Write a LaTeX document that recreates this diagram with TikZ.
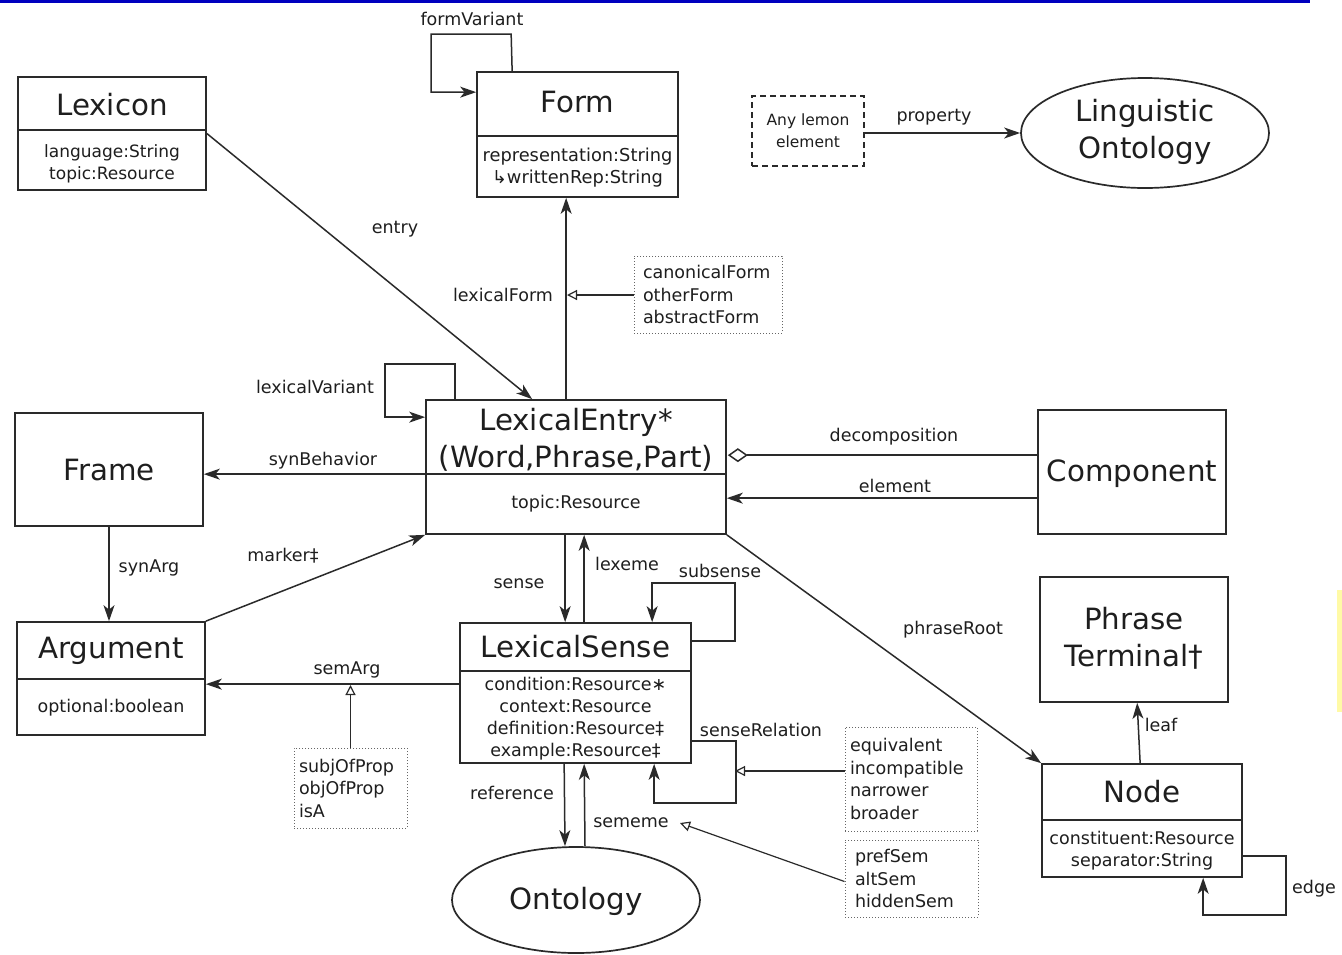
\documentclass[tikz,border=0pt]{standalone}
\usepackage{fontspec}
\setmainfont{DejaVu Sans}
\usetikzlibrary{arrows.meta,shapes.geometric,calc}
\definecolor{ln}{HTML}{2A2A2A}
\definecolor{tx}{HTML}{1E1E1E}
\begin{document}
\begin{tikzpicture}[x=1pt,y=-1pt,
 cls/.style={draw=ln, line width=1.7pt, inner sep=0pt},
 ttl/.style={font=\fontsize{29.3}{37}\selectfont, inner sep=0pt, align=center, text=tx},
 attr/.style={font=\fontsize{17.5}{22}\selectfont, inner sep=0pt, align=center, text=tx},
 lbl/.style={font=\fontsize{17.5}{21}\selectfont, inner sep=0pt, text=tx},
 div/.style={draw=ln, line width=1.7pt},
 conn/.style={draw=ln, line width=1.5pt, -{Stealth[length=16pt,width=11pt,inset=4.5pt]}},
 plain/.style={draw=ln, line width=1.5pt},
 note/.style={draw=black!60, dotted, line width=1pt, inner ysep=0pt, align=left,
   font=\fontsize{17.5}{22.5}\selectfont, text=tx},
 gen/.style={draw=ln, line width=1.2pt, -{Triangle[open,length=10pt,width=10pt]}},
]
\useasboundingbox (0,0) rectangle (1342,954);
\fill[white] (0,0) rectangle (1342,954);
\fill[blue!75!black] (0,0) rectangle (1310,2.5);
\fill[yellow!35] (1337,590) rectangle (1342,712);

% ---------- classes ----------
\node[cls, minimum width=188pt, minimum height=113pt] (lexicon) at (112,133.5) {};
\draw[div] ($(lexicon.north west)+(0,54)$) -- ($(lexicon.north east)+(0,54)$);
\node[ttl] (lexiconT) at (112,105) {Lexicon};
\node[attr, font=\fontsize{17}{22}\selectfont] (lexiconA) at (112,164) {language:String\\topic:Resource};

\node[cls, minimum width=201pt, minimum height=125pt] (form) at (577.5,134.5) {};
\draw[div] ($(form.north west)+(0,65)$) -- ($(form.north east)+(0,65)$);
\node[ttl] (formT) at (577.5,102) {Form};
\node[attr, font=\fontsize{17.8}{22}\selectfont] (formA) at (577.5,168) {representation:String\\↳writtenRep:String};

\node[cls, minimum width=300pt, minimum height=134pt] (le) at (576,467) {};
\draw[div] ($(le.north west)+(0,75)$) -- ($(le.north east)+(0,75)$);
\node[ttl] (leT) at (576,440) {LexicalEntry*\\(Word,Phrase,Part)};
\node[attr] (leA) at (576,504) {topic:Resource};

\node[cls, minimum width=188pt, minimum height=113pt] (frame) at (109,469.5) {};
\node[ttl] (frameT) at (109,470) {Frame};

\node[cls, minimum width=188pt, minimum height=124pt] (comp) at (1132,472) {};
\node[ttl] (compT) at (1132,474) {Component};

\node[cls, minimum width=188pt, minimum height=113pt] (arg) at (111,678.5) {};
\draw[div] ($(arg.north west)+(0,58)$) -- ($(arg.north east)+(0,58)$);
\node[ttl] (argT) at (111,651) {Argument};
\node[attr] (argA) at (111,708) {optional:boolean};

\node[cls, minimum width=231pt, minimum height=140pt] (ls) at (575.5,693) {};
\draw[div] ($(ls.north west)+(0,49)$) -- ($(ls.north east)+(0,49)$);
\node[ttl] (lsT) at (575.5,647) {LexicalSense};
\node[attr] (lsA) at (575.5,719) {condition:Resource∗\\context:Resource\\definition:Resource‡\\example:Resource‡};

\node[cls, minimum width=188pt, minimum height=125pt] (pt) at (1134,639.5) {};
\node[ttl] (ptT) at (1134,638) {Phrase\\Terminal†};

\node[cls, minimum width=200pt, minimum height=113pt] (nd) at (1142,820.5) {};
\draw[div] ($(nd.north west)+(0,57)$) -- ($(nd.north east)+(0,57)$);
\node[ttl] (ndT) at (1142,792) {Node};
\node[attr] (ndA) at (1142,851) {constituent:Resource\\separator:String};

\node[ellipse, draw=ln, line width=1.7pt, minimum width=248pt, minimum height=110pt, inner sep=0pt] (lo) at (1145,133) {};
\node[ttl] (loT) at (1145,132) {Linguistic\\Ontology};

\node[ellipse, draw=ln, line width=1.7pt, minimum width=248pt, minimum height=106pt, inner sep=0pt] (ont) at (576,900) {};
\node[ttl] (ontT) at (576,901) {Ontology};

\node[draw=ln, dashed, dash pattern=on 6pt off 4pt, line width=1.3pt, minimum width=112pt, minimum height=70pt,
  inner sep=0pt, align=center, font=\fontsize{15.5}{22}\selectfont, text=tx] (any) at (808,131) {Any lemon\\element};

% ---------- notes ----------
\node[note, inner xsep=9pt, text width=130pt, minimum height=77pt] (canon) at (708,294.5) {canonicalForm\\otherForm\\abstractForm};
\node[note, inner xsep=5pt, text width=103pt, minimum height=80pt] (subj) at (350.5,788) {subjOfProp\\objOfProp\\isA};
\node[note, inner xsep=5pt, text width=122pt, minimum height=104pt] (equiv) at (911,779) {equivalent\\incompatible\\narrower\\broader};
\node[note, inner xsep=10pt, text width=113pt, minimum height=77pt] (pref) at (911.5,878.5) {prefSem\\altSem\\hiddenSem};

% ---------- connectors ----------
\coordinate (lfmid) at (567,295);
\coordinate (semmid) at (350.5,685);
\coordinate (srmid) at (735,771);
\coordinate (smmid) at (680,823);

\draw[conn] ($(form.north west)+(36,0)$) -- ++(-1,-37) -- ++(-80,0) |- ($(form.north west)+(0,21)$);
\draw[conn] (any.east |- lo.west) -- (lo.west);
\draw[conn] (lexicon.east) -- ($(le.north west)+(107,0)$);
\draw[conn] ($(le.north west)+(141,0)$) -- ($(form.south west)+(90,0)$);
\draw[gen] (canon.west |- lfmid) -- (lfmid);
\draw[conn] ($(le.north west)+(30,0)$) -- ++(0,-35) -- ++(-70,0) |- ($(le.north west)+(0,18)$);
\draw[conn] ($(le.north west)+(0,75)$) -- ($(frame.north east)+(0,62)$);
\draw[plain, {Diamond[open,length=20pt,width=14pt]}-] ($(le.north east)+(1,56)$) -- ($(comp.north west)+(0,46)$);
\draw[conn] ($(comp.north west)+(0,89)$) -- ($(le.north east)+(0,99)$);
\draw[conn] (frame.south) -- (frame.south |- arg.north);
\draw[conn] (arg.north east) -- (le.south west);
\draw[conn] ($(le.south west)+(140,0)$) -- ($(ls.north west)+(106,0)$);
\draw[conn] ($(ls.north west)+(125,0)$) -- ($(le.south west)+(159,0)$);
\draw[conn] ($(ls.north east)+(0,19)$) -- ++(43,0) -- ++(0,-58) -| ($(ls.north west)+(193,0)$);
\draw[conn] ($(ls.north west)+(0,62)$) -- ($(arg.north east)+(0,63)$);
\draw[gen] (subj.north) -- (semmid);
\draw[conn] ($(ls.north east)+(0,119)$) -- ++(44,0) -- ++(0,62) -| ($(ls.south west)+(195,0)$);
\draw[gen] (equiv.west |- srmid) -- (srmid);
\draw[conn] ($(ls.south west)+(105,0)$) -- ($(ont.north)+(-11,0)$);
\draw[conn] ($(ont.north)+(9,0)$) -- ($(ls.south west)+(125,0)$);
\draw[gen] ($(pref.west)+(0,3)$) -- (smmid);
\draw[conn] (le.south east) -- (nd.north west);
\draw[conn] ($(nd.north west)+(99,0)$) -- ($(pt.south west)+(98,0)$);
\draw[conn] ($(nd.north east)+(0,93)$) -- ++(43,0) -- ++(0,59) -| ($(nd.south west)+(162,0)$);

% ---------- labels ----------
\node[lbl] (l1) at (472,19) {formVariant};
\node[lbl] (l2) at (934,117) {property};
\node[lbl] (l3) at (395,229) {entry};
\node[lbl] (l4) at (503,295) {lexicalForm};
\node[lbl] (l5) at (315,387) {lexicalVariant};
\node[lbl] (l6) at (323,461) {synBehavior};
\node[lbl] (l7) at (894,437) {decomposition};
\node[lbl] (l8) at (895,486) {element};
\node[lbl] (l9) at (149,568) {synArg};
\node[lbl] (l10) at (283,556) {marker‡};
\node[lbl] (l11) at (519,584) {sense};
\node[lbl] (l12) at (627,564) {lexeme};
\node[lbl] (l13) at (720,571) {subsense};
\node[lbl] (l14) at (953,630) {phraseRoot};
\node[lbl] (l15) at (347,670) {semArg};
\node[lbl] (l16) at (761,730) {senseRelation};
\node[lbl] (l17) at (1161,725) {leaf};
\node[lbl] (l18) at (512,793) {reference};
\node[lbl] (l19) at (631,823) {sememe};
\node[lbl] (l20) at (1314,889) {edge};
\end{tikzpicture}
\end{document}
